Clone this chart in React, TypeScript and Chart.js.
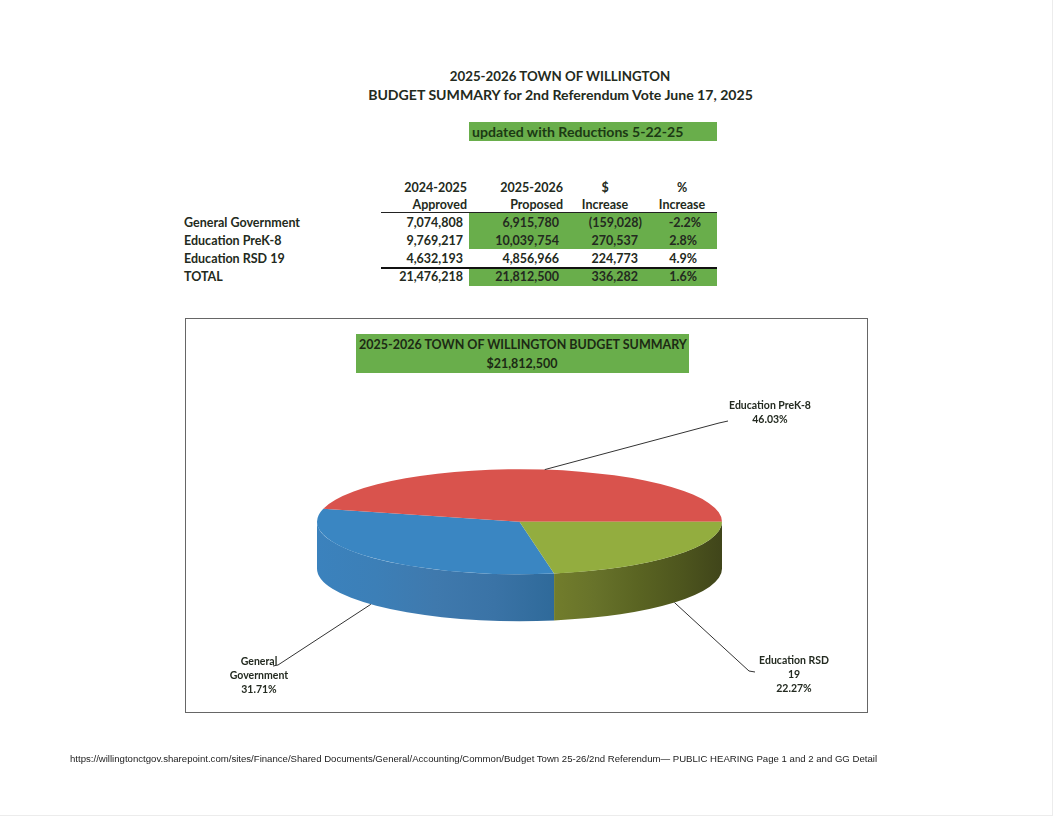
import React, { useEffect, useRef } from "react";
import { Chart, registerables } from "chart.js";

Chart.register(...registerables);

const pageTitle = ["2025-2026 TOWN OF WILLINGTON", "BUDGET SUMMARY for 2nd Referendum Vote June 17, 2025"];
const updateNote = "updated with Reductions 5-22-25";
const rowLabels = ["General Government", "Education PreK-8", "Education RSD 19", "TOTAL"];
const approved = ["7,074,808", "9,769,217", "4,632,193", "21,476,218"];
const proposed = ["6,915,780", "10,039,754", "4,856,966", "21,812,500"];
const increase = ["(159,028)", "270,537", "224,773", "336,282"];
const pctIncrease = ["-2.2%", "2.8%", "4.9%", "1.6%"];
const chartTitle = ["2025-2026 TOWN OF WILLINGTON BUDGET SUMMARY", "$21,812,500"];
const footer =
  "https://willingtonctgov.sharepoint.com/sites/Finance/Shared Documents/General/Accounting/Common/Budget Town 25-26/2nd Referendum\u2014 PUBLIC HEARING Page 1 and 2 and GG Detail";

const sliceLabels = [["General", "Government"], ["Education PreK-8"], ["Education RSD", "19"]];
const sliceValues = [6915780, 10039754, 4856966];
const sliceColors = ["#3a86c2", "#d9534d", "#93ad3f"];
const wallStops = [
  ["#3b82bd", "#3c7fb7", "#3f79ad", "#3a73a6", "#2f6a9a"],
  ["#b04340", "#b04340", "#b04340", "#b04340", "#b04340"],
  ["#727d2c", "#67722a", "#5a6422", "#4e561e", "#40451a"],
];

const FONT = "Lato, Carlito, sans-serif";
const INK = "#232a20";
const GREEN = "#69ae4b";
const TILT = 52.5 / 202.5;
const DEPTH = 47;
const labelAnchors = [
  { x: 259, y: 661.5, elbow: [278, 665], end: [273, 666] },
  { x: 770, y: 405.5, elbow: [719, 423], end: [728, 421] },
  { x: 794, y: 660.5, elbow: [749, 671], end: [755, 672] },
];

const pie3d = {
  id: "pie3d",
  beforeDatasetsDraw(chart: any) {
    const ctx = chart.ctx;
    const arcs = chart.getDatasetMeta(0).data;
    const cx = arcs[0].x;
    const cy = arcs[0].y;
    const rx = arcs[0].outerRadius;
    const ry = rx * TILT;
    arcs.forEach((arc: any, i: number) => {
      [-2 * Math.PI, 0].forEach((shift) => {
        const a = Math.max(arc.startAngle + shift, 0);
        const b = Math.min(arc.endAngle + shift, Math.PI);
        if (b <= a) return;
        const xa = cx + rx * Math.cos(a);
        const xb = cx + rx * Math.cos(b);
        const g = ctx.createLinearGradient(Math.min(xa, xb), 0, Math.max(xa, xb), 0);
        wallStops[i].forEach((c, k) => g.addColorStop(k / (wallStops[i].length - 1), c));
        ctx.beginPath();
        ctx.ellipse(cx, cy, rx, ry, 0, a, b);
        ctx.ellipse(cx, cy + DEPTH, rx, ry, 0, b, a, true);
        ctx.closePath();
        ctx.fillStyle = g;
        ctx.fill();
      });
    });
    ctx.save();
    ctx.translate(cx, cy);
    ctx.scale(1, TILT);
    ctx.translate(-cx, -cy);
  },
  afterDatasetsDraw(chart: any) {
    const ctx = chart.ctx;
    ctx.restore();
    const arcs = chart.getDatasetMeta(0).data;
    const total = sliceValues.reduce((s, v) => s + v, 0);
    arcs.forEach((arc: any, i: number) => {
      const mid = (arc.startAngle + arc.endAngle) / 2;
      const sx = arc.x + arc.outerRadius * Math.cos(mid);
      const onFront = Math.sin(mid) > 0;
      const sy = arc.y + arc.outerRadius * TILT * Math.sin(mid) + (onFront ? DEPTH : 0);
      const a = labelAnchors[i];
      const lines = [...sliceLabels[i], ((sliceValues[i] / total) * 100).toFixed(2) + "%"];
      ctx.fillStyle = INK;
      ctx.font = `700 10.5px ${FONT}`;
      ctx.textAlign = "center";
      ctx.textBaseline = "middle";
      lines.forEach((t, k) => ctx.fillText(t, a.x, a.y + k * 14.3));
      ctx.beginPath();
      ctx.moveTo(sx, sy);
      ctx.lineTo(a.elbow[0], a.elbow[1]);
      ctx.lineTo(a.end[0], a.end[1]);
      ctx.strokeStyle = "#333";
      ctx.lineWidth = 1;
      ctx.stroke();
    });
  },
};

function T({ x, y, a = "l", size = 12.5, w = 700, font = FONT, color = INK, children }: any) {
  const tx = a === "r" ? "-100%" : a === "c" ? "-50%" : "0";
  return (
    <div
      style={{
        position: "absolute",
        left: x,
        top: y,
        transform: `translate(${tx},-50%)`,
        fontFamily: font,
        fontSize: size,
        fontWeight: w,
        color,
        whiteSpace: "pre",
        lineHeight: 1,
      }}
    >
      {children}
    </div>
  );
}

function Box({ x, y, w, h, c }: any) {
  return <div style={{ position: "absolute", left: x, top: y, width: w, height: h, background: c }} />;
}

const rowY = [223, 241, 259, 277];

export default function App() {
  const ref = useRef<HTMLCanvasElement>(null);
  useEffect(() => {
    const chart = new Chart(ref.current!, {
      type: "pie",
      data: {
        labels: sliceLabels.map((l) => l.join(" ")),
        datasets: [
          { data: sliceValues, backgroundColor: sliceColors, borderWidth: 0, hoverOffset: 0 },
        ],
      },
      options: {
        animation: false,
        responsive: false,
        rotation: 170.17,
        layout: { padding: { left: 317, right: 334, top: 319.2, bottom: 91.8 } },
        plugins: { legend: { display: false }, title: { display: false }, tooltip: { enabled: false } },
      },
      plugins: [pie3d],
    } as any);
    return () => chart.destroy();
  }, []);

  return (
    <div style={{ position: "absolute", left: 0, top: 0, width: 1056, height: 816, overflow: "hidden", background: "#fff" }}>
      <T x={560} y={77} a="c" size={13.3}>{pageTitle[0]}</T>
      <T x={560.5} y={95} a="c" size={14.1}>{pageTitle[1]}</T>

      <Box x={469} y={122} w={248} h={19} c={GREEN} />
      <T x={472} y={132} size={14.1} color="#1c3a14">{updateNote}</T>

      <Box x={469} y={213} w={248} h={36} c={GREEN} />
      <Box x={469} y={268} w={248} h={18} c={GREEN} />
      <Box x={381} y={212} w={336} h={1.3} c="#222" />
      <Box x={381} y={266.5} w={336} h={2} c="#111" />

      <T x={467} y={188} a="r">2024-2025</T>
      <T x={467} y={205} a="r">Approved</T>
      <T x={563} y={188} a="r">2025-2026</T>
      <T x={563} y={205} a="r">Proposed</T>
      <T x={605} y={188} a="c">$</T>
      <T x={605} y={205} a="c">Increase</T>
      <T x={682} y={188} a="c">%</T>
      <T x={682} y={205} a="c">Increase</T>

      {rowLabels.map((l, i) => (
        <React.Fragment key={l}>
          <T x={184} y={rowY[i]}>{l}</T>
          <T x={463} y={rowY[i]} a="r">{approved[i]}</T>
          <T x={559} y={rowY[i]} a="r">{proposed[i]}</T>
          <T x={i === 0 ? 642 : 638} y={rowY[i]} a="r">{increase[i]}</T>
          <T x={i === 0 ? 701 : 697} y={rowY[i]} a="r">{pctIncrease[i]}</T>
        </React.Fragment>
      ))}

      <div style={{ position: "absolute", left: 185, top: 318, width: 683, height: 394.5, border: "1px solid #666", boxSizing: "border-box" }} />
      <Box x={356} y={334} w={333} h={38.5} c={GREEN} />
      <T x={523} y={345} a="c" size={12.5} color="#1c2a14">{chartTitle[0]}</T>
      <T x={522} y={364} a="c" size={12.5} color="#1c2a14">{chartTitle[1]}</T>

      <canvas ref={ref} width={1056} height={816} style={{ position: "absolute", left: 0, top: 0, width: 1056, height: 816 }} />

      <T x={70} y={758.5} size={9.6} w={400} font="'Liberation Sans', Arial, sans-serif" color="#222">{footer}</T>
      <Box x={1052} y={0} w={1} h={816} c="#ececec" />
      <Box x={0} y={814.5} w={1052} h={1} c="#ececec" />
    </div>
  );
}
